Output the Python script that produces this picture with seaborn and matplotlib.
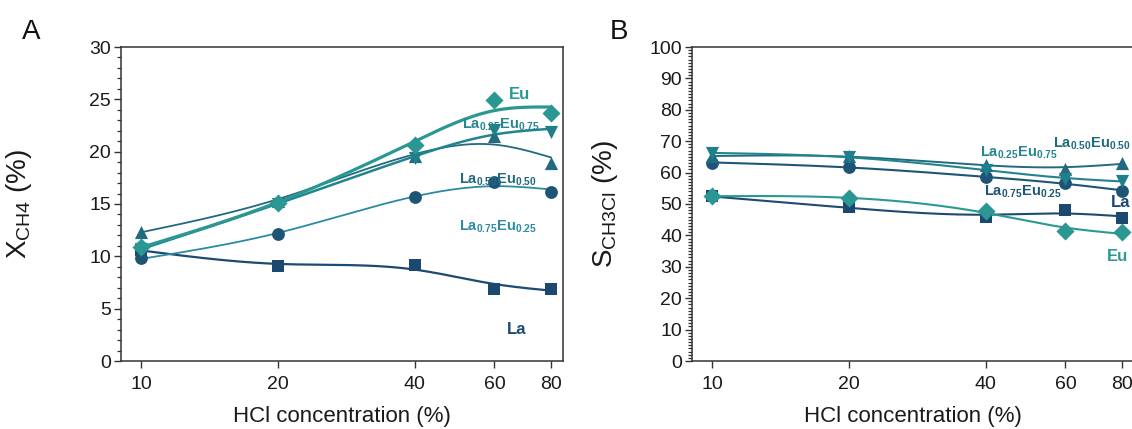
import numpy as np
import pandas as pd
import seaborn as sns
import matplotlib
matplotlib.use("Agg")
import matplotlib.pyplot as plt
from matplotlib.ticker import MultipleLocator, NullLocator, FixedLocator, FixedFormatter

# ---- data -------------------------------------------------------------
hcl = [10, 20, 40, 60, 80]
catalysts = ["La", "La0.75Eu0.25", "La0.50Eu0.50", "La0.25Eu0.75", "Eu"]

# CH4 conversion (%)
x_ch4_la = [10.6, 9.1, 9.15, 6.9, 6.9]
x_ch4_la75 = [9.8, 12.1, 15.7, 17.1, 16.1]
x_ch4_la50 = [12.35, 15.3, 19.6, 21.5, 18.9]
x_ch4_la25 = [10.7, 15.0, 19.4, 22.1, 21.9]
x_ch4_eu = [10.9, 15.1, 20.6, 24.9, 23.7]

# CH3Cl selectivity (%)
s_ch3cl_la = [52.4, 48.9, 45.9, 48.0, 45.6]
s_ch3cl_la75 = [63.2, 61.7, 58.5, 56.7, 54.2]
s_ch3cl_la50 = [65.2, 65.3, 62.4, 61.1, 63.2]
s_ch3cl_la25 = [66.2, 65.0, 60.9, 57.9, 57.4]
s_ch3cl_eu = [52.4, 52.0, 47.8, 41.4, 41.0]

# ---- styling ----------------------------------------------------------
sns.set_theme(style="ticks")
plt.rcParams["font.family"] = ["Liberation Sans", "DejaVu Sans"]
plt.rcParams["mathtext.fontset"] = "custom"
plt.rcParams["mathtext.rm"] = "Liberation Sans"
plt.rcParams["mathtext.it"] = "Liberation Sans:italic"
plt.rcParams["mathtext.bf"] = "Liberation Sans:bold"

marker_map = {"La": "s", "La0.75Eu0.25": "o", "La0.50Eu0.50": "^",
              "La0.25Eu0.75": "v", "Eu": "D"}
marker_col = {"La": "#1b4870", "La0.75Eu0.25": "#1e5476", "La0.50Eu0.50": "#226a80",
              "La0.25Eu0.75": "#1f7f8a", "Eu": "#2a9792"}
line_col_a = {"La": "#1d4a72", "La0.75Eu0.25": "#2c8aa2", "La0.50Eu0.50": "#226a80",
              "La0.25Eu0.75": "#21848e", "Eu": "#2a9792"}
line_col_b = {"La": "#1d4a72", "La0.75Eu0.25": "#1f5577", "La0.50Eu0.50": "#226a80",
              "La0.25Eu0.75": "#21848e", "Eu": "#2a9994"}
lw_a = {"La": 1.6, "La0.75Eu0.25": 1.3, "La0.50Eu0.50": 1.3, "La0.25Eu0.75": 1.8, "Eu": 2.3}
lw_b = {"La": 1.5, "La0.75Eu0.25": 1.5, "La0.50Eu0.50": 1.4, "La0.25Eu0.75": 1.5, "Eu": 1.5}
msize = {"La": 75, "La0.75Eu0.25": 85, "La0.50Eu0.50": 90, "La0.25Eu0.75": 90, "Eu": 85}

panel_a = {"La": x_ch4_la, "La0.75Eu0.25": x_ch4_la75, "La0.50Eu0.50": x_ch4_la50,
           "La0.25Eu0.75": x_ch4_la25, "Eu": x_ch4_eu}
panel_b = {"La": s_ch3cl_la, "La0.75Eu0.25": s_ch3cl_la75, "La0.50Eu0.50": s_ch3cl_la50,
           "La0.25Eu0.75": s_ch3cl_la25, "Eu": s_ch3cl_eu}


def smoothing_spline(t, y, lam, grid):
    """Cubic smoothing spline (Reinsch form) evaluated on grid."""
    t = np.asarray(t, float)
    y = np.asarray(y, float)
    n = len(t)
    h = np.diff(t)
    Q = np.zeros((n, n - 2))
    R = np.zeros((n - 2, n - 2))
    for j in range(1, n - 1):
        Q[j - 1, j - 1] = 1 / h[j - 1]
        Q[j, j - 1] = -1 / h[j - 1] - 1 / h[j]
        Q[j + 1, j - 1] = 1 / h[j]
        R[j - 1, j - 1] = (h[j - 1] + h[j]) / 3
        if j < n - 2:
            R[j - 1, j] = R[j, j - 1] = h[j] / 6
    K = Q @ np.linalg.solve(R, Q.T)
    g = np.linalg.solve(np.eye(n) + lam * K, y)
    m = np.concatenate([[0.0], np.linalg.solve(R, Q.T @ g), [0.0]])
    idx = np.clip(np.searchsorted(t, grid) - 1, 0, n - 2)
    hi = h[idx]
    a = (t[idx + 1] - grid) / hi
    b = (grid - t[idx]) / hi
    return (a * g[idx] + b * g[idx + 1]
            + ((a ** 3 - a) * m[idx] + (b ** 3 - b) * m[idx + 1]) * hi ** 2 / 6)


def long_form(values):
    rows = []
    for cat in catalysts:
        for hh, v in zip(hcl, values[cat]):
            rows.append({"hcl": hh, "value": v, "catalyst": cat})
    return pd.DataFrame(rows)


def smooth_curves(values, lam):
    grid = np.logspace(np.log10(hcl[0]), np.log10(hcl[-1]), 300)
    rows = []
    for cat in catalysts:
        fit = smoothing_spline(np.log10(hcl), values[cat], lam, np.log10(grid))
        for gx, f in zip(grid, fit):
            rows.append({"hcl": gx, "value": f, "catalyst": cat})
    return pd.DataFrame(rows)


W, H = 1132, 429
fig = plt.figure(figsize=(W / 100, H / 100), dpi=100)
ax_a = fig.add_axes([120.7 / W, 1 - 361 / H, 442.3 / W, 314 / H])
ax_b = fig.add_axes([691.7 / W, 1 - 361 / H, 442.3 / W, 314 / H])


def draw_panel(ax, values, line_col, lw, lam):
    pts = long_form(values)
    curves = smooth_curves(values, lam)
    for cat in catalysts:
        sns.lineplot(data=curves[curves.catalyst == cat], x="hcl", y="value",
                     color=line_col[cat], linewidth=lw[cat], ax=ax,
                     legend=False, zorder=2, sort=False)
    for cat in catalysts:
        sns.scatterplot(data=pts[pts.catalyst == cat], x="hcl", y="value",
                        marker=marker_map[cat], color=marker_col[cat],
                        s=msize[cat], linewidth=0, ax=ax, legend=False, zorder=3)
    ax.set_xscale("log")
    ax.set_xlim(9, 85)
    ax.xaxis.set_major_locator(FixedLocator(hcl))
    ax.xaxis.set_major_formatter(FixedFormatter([str(v) for v in hcl]))
    ax.xaxis.set_minor_locator(NullLocator())
    ax.set_xlabel("HCl concentration (%)", fontsize=16, labelpad=9, color="#1a1a1a")
    for s in ax.spines.values():
        s.set_linewidth(1.1)
        s.set_color("#333333")
    ax.tick_params(axis="both", which="major", direction="out", length=5, width=1.0,
                   labelsize=14, colors="#333333", labelcolor="#1a1a1a")
    ax.tick_params(axis="x", pad=6)
    ax.tick_params(axis="y", pad=2)
    ax.tick_params(axis="y", which="minor", direction="out", length=3, width=0.9,
                   colors="#333333")


draw_panel(ax_a, panel_a, line_col_a, lw_a, 0.0005)
ax_a.set_ylim(0, 30)
ax_a.yaxis.set_major_locator(MultipleLocator(5))
ax_a.yaxis.set_minor_locator(MultipleLocator(1))
ax_a.set_ylabel(r"X$_{\mathregular{CH4}}$ (%)", fontsize=20, color="#1a1a1a")
ax_a.yaxis.set_label_coords(-0.195, 0.5)

draw_panel(ax_b, panel_b, line_col_b, lw_b, 0.0005)
ax_b.set_ylim(0, 100)
ax_b.yaxis.set_major_locator(MultipleLocator(10))
ax_b.yaxis.set_minor_locator(MultipleLocator(1))
ax_b.set_ylabel(r"S$_{\mathregular{CH3Cl}}$ (%)", fontsize=20, color="#1a1a1a")
ax_b.yaxis.set_label_coords(-0.163, 0.5)


def tag(ax, x, y, a, b, color, size=10.5):
    if b is None:
        txt = a
    else:
        txt = r"La$_{\mathbf{%s}}$Eu$_{\mathbf{%s}}$" % (a, b)
    ax.text(x, y, txt, color=color, fontsize=size, fontweight="bold",
            ha="center", va="center", zorder=4)


# series labels, panel A
tag(ax_a, 68, 25.5, "Eu", None, "#2a9792", 12)
tag(ax_a, 62, 22.6, "0.25", "0.75", "#25868f")
tag(ax_a, 61, 17.3, "0.50", "0.50", "#226a80")
tag(ax_a, 61, 12.8, "0.75", "0.25", "#2c8aa2")
tag(ax_a, 67, 3.0, "La", None, "#1d4a72", 12)

# series labels, panel B
tag(ax_b, 47.5, 66.4, "0.25", "0.75", "#25868f")
tag(ax_b, 68.5, 69.2, "0.50", "0.50", "#226a80")
tag(ax_b, 48.5, 53.8, "0.75", "0.25", "#1f5577")
tag(ax_b, 79.5, 50.4, "La", None, "#1d4a72", 12)
tag(ax_b, 78, 33.4, "Eu", None, "#2a9994", 12)

# panel letters
fig.text(22 / W, 1 - 39 / H, "A", fontsize=20, color="#111111", va="baseline")
fig.text(610 / W, 1 - 39 / H, "B", fontsize=20, color="#111111", va="baseline")

fig.savefig("out.png", dpi=100)
